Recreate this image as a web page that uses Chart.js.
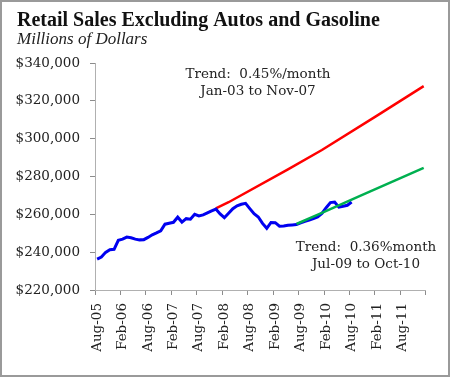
<!DOCTYPE html>
<html>
<head>
<meta charset="utf-8">
<script src="https://cdn.jsdelivr.net/npm/chart.js"></script>
<style>
    html, body { margin: 0; padding: 0; background: #fff; }
    #frame { width: 450px; height: 377px; box-sizing: border-box; border: 2px solid #9a9a9a; background: #fff; }
    canvas { display: block; }
</style>
</head>
<body>
<div id="frame"><canvas id="salesChart" width="446" height="373"></canvas></div>
<script>
// months on the category axis, Aug-05 through Jan-12
const monthNames = ['Jan', 'Feb', 'Mar', 'Apr', 'May', 'Jun', 'Jul', 'Aug', 'Sep', 'Oct', 'Nov', 'Dec'];
const categories = [];
for (let year = 5; year <= 12; year++) {
    monthNames.forEach((m, i) => {
        if (year === 5 && i < 7) return;
        if (year === 12 && i > 0) return;
        categories.push(m + '-' + String(year).padStart(2, '0'));
    });
}

// retail sales ex autos & gas, millions of dollars, Aug-05 .. Aug-10
const salesValues = [
    236300, 237400, 239900, 241300, 241500, 246300, 246900, 248000, 247600, 246900, 246500, 246600,
    247800, 249200, 250200, 251300, 254800, 255300, 255800, 258500, 255900, 257700, 257400, 260000,
    259200, 259700, 260800, 261800, 262800, 260200, 258200, 260600, 263000, 264500, 265300, 265800,
    263000, 260300, 258600, 255200, 252600, 255700, 255600, 253700, 253800, 254200, 254400, 254600,
    255500, 256300, 257000, 257800, 258600, 260500, 263500, 266200, 266500, 263800, 264300, 264800,
    266500
];

// 0.45%/month trend (fit Jan-03 to Nov-07)
const oldTrendMonths = ['Dec-07', 'Mar-08', 'May-09', 'Jan-10', 'Feb-11', 'Jan-12'];
const oldTrendValues = [263200, 266400, 283800, 294000, 312200, 327800];

// 0.36%/month trend (fit Jul-09 to Oct-10)
const newTrendMonths = ['Jul-09', 'Jan-10', 'Oct-10', 'Jan-12'];
const newTrendValues = [254900, 260800, 269800, 284600];

const yTicks = [220000, 240000, 260000, 280000, 300000, 320000, 340000];

const serif = "'DejaVu Serif', serif";

const chartText = {
    id: 'chartText',
    afterDraw(chart) {
        const ctx = chart.ctx;
        ctx.save();
        ctx.fillStyle = '#111';
        ctx.textAlign = 'left';
        ctx.textBaseline = 'alphabetic';
        ctx.font = "bold 20px 'Liberation Serif', serif";
        ctx.fillText('Retail Sales Excluding Autos and Gasoline', 15, 24);
        ctx.font = "italic 17px 'Liberation Serif', serif";
        ctx.fillStyle = '#222';
        ctx.fillText('Millions of Dollars', 15, 42);

        ctx.font = '13.5px ' + serif;
        ctx.fillStyle = '#222';
        ctx.textAlign = 'center';
        ctx.textBaseline = 'middle';
        ctx.fillText('Trend:  0.45%/month', 256, 72);
        ctx.fillText('Jan-03 to Nov-07', 256, 89);
        ctx.fillText('Trend:  0.36%month', 364, 245);
        ctx.fillText('Jul-09 to Oct-10', 364, 262);
        ctx.restore();
    }
};

new Chart(document.getElementById('salesChart'), {
    type: 'line',
    data: {
        labels: categories,
        datasets: [
            {
                label: 'Trend Jul-09 to Oct-10',
                data: newTrendMonths.map((m, i) => ({ x: m, y: newTrendValues[i] })),
                borderColor: '#00b050',
                borderWidth: 2.5,
                pointRadius: 0,
                tension: 0,
                order: 0
            },
            {
                label: 'Retail sales',
                data: salesValues,
                borderColor: '#0000f0',
                borderWidth: 3,
                pointRadius: 0,
                tension: 0,
                order: 1
            },
            {
                label: 'Trend Jan-03 to Nov-07',
                data: oldTrendMonths.map((m, i) => ({ x: m, y: oldTrendValues[i] })),
                borderColor: '#ff0000',
                borderWidth: 2.5,
                pointRadius: 0,
                tension: 0,
                order: 2
            }
        ]
    },
    options: {
        responsive: false,
        animation: false,
        layout: { padding: { top: 61, right: 16, bottom: 0, left: 0 } },
        plugins: {
            legend: { display: false },
            tooltip: { enabled: false }
        },
        scales: {
            x: {
                type: 'category',
                offset: true,
                grid: {
                    offset: true,
                    drawOnChartArea: false,
                    tickLength: 5,
                    color: (c) => (c.index === undefined || c.index % 6 === 0) ? '#8c8c8c' : 'rgba(0,0,0,0)'
                },
                border: { color: '#b0b0b0', dash: [1, 1] },
                ticks: {
                    autoSkip: false,
                    maxRotation: 90,
                    minRotation: 90,
                    padding: 8,
                    color: '#222',
                    font: { family: serif, size: 13.5 },
                    callback: function (value, index) {
                        return index % 6 === 0 ? this.getLabelForValue(value) : '';
                    }
                },
                afterFit: (scale) => { scale.height = 85; }
            },
            y: {
                min: yTicks[0],
                max: yTicks[yTicks.length - 1],
                grid: { drawOnChartArea: false, tickLength: 5, color: '#8c8c8c' },
                border: { color: '#b0b0b0', dash: [1, 1] },
                afterBuildTicks: (scale) => { scale.ticks = yTicks.map(v => ({ value: v })); },
                ticks: {
                    padding: 10,
                    color: '#222',
                    font: { family: serif, size: 13.5 },
                    callback: (v) => '$' + v.toLocaleString('en-US')
                },
                afterFit: (scale) => { scale.width = 93; }
            }
        }
    },
    plugins: [chartText]
});
</script>
</body>
</html>
